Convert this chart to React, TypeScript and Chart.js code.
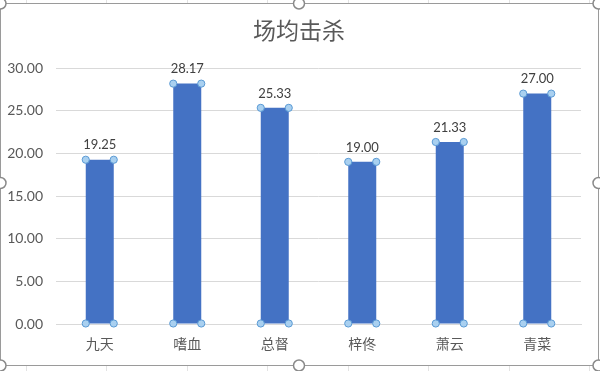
import React, { useEffect, useRef } from "react";
import { Chart, registerables } from "chart.js";

Chart.register(...registerables);

const title = "场均击杀";
const categories = ["九天", "嗜血", "总督", "梓佟", "萧云", "青菜"];
const killsPerGame = [19.25, 28.17, 25.33, 19.0, 21.33, 27.0];
const yMin = 0;
const yMax = 30;
const yStep = 5;

const FONT = "Lato, 'Noto Sans CJK SC', sans-serif";

const decorPlugin = {
  id: "decor",
  beforeDraw(chart: any) {
    const ctx = chart.ctx;
    const W = chart.width;
    const H = chart.height;
    ctx.save();
    ctx.fillStyle = "#ffffff";
    ctx.fillRect(0, 0, W, H);
    ctx.strokeStyle = "#e3e3e3";
    ctx.lineWidth = 1;
    for (let x = 25.5; x < W; x += 80.5) {
      const xx = Math.round(x) + 0.5;
      ctx.beginPath();
      ctx.moveTo(xx, 0);
      ctx.lineTo(xx, 3);
      ctx.moveTo(xx, 366);
      ctx.lineTo(xx, H);
      ctx.stroke();
    }
    ctx.fillStyle = "#595959";
    ctx.font = `23px ${FONT}`;
    ctx.textAlign = "center";
    ctx.textBaseline = "middle";
    ctx.fillText(title, 299, 32);
    ctx.restore();
  },
  afterDatasetsDraw(chart: any) {
    const ctx = chart.ctx;
    const meta = chart.getDatasetMeta(0);
    const data = chart.data.datasets[0].data as number[];
    ctx.save();
    meta.data.forEach((bar: any, i: number) => {
      const { x, y, base, width } = bar.getProps(["x", "y", "base", "width"], true);
      ctx.fillStyle = "#404040";
      ctx.font = `13px ${FONT}`;
      ctx.textAlign = "center";
      ctx.textBaseline = "bottom";
      ctx.fillText(data[i].toFixed(2), x, y - 8);
      const pts = [
        [x - width / 2, y],
        [x + width / 2, y],
        [x - width / 2, base],
        [x + width / 2, base],
      ];
      pts.forEach(([px, py]) => {
        ctx.beginPath();
        ctx.arc(px, py, 3.6, 0, Math.PI * 2);
        ctx.fillStyle = "#a9d0f0";
        ctx.fill();
        ctx.lineWidth = 1;
        ctx.strokeStyle = "#5b9bd5";
        ctx.stroke();
      });
    });
    ctx.restore();
  },
  afterDraw(chart: any) {
    const ctx = chart.ctx;
    ctx.save();
    ctx.strokeStyle = "#9a9a9a";
    ctx.lineWidth = 1;
    ctx.strokeRect(0.5, 3.5, 598, 362);
    const handles = [
      [0.5, 3.5], [299, 3.5], [598.5, 3.5],
      [0.5, 183], [598.5, 183],
      [0.5, 365.5], [299, 365.5], [598.5, 365.5],
    ];
    handles.forEach(([hx, hy]) => {
      ctx.beginPath();
      ctx.arc(hx, hy, 5.5, 0, Math.PI * 2);
      ctx.fillStyle = "#ffffff";
      ctx.fill();
      ctx.lineWidth = 1.5;
      ctx.strokeStyle = "#8a8a8a";
      ctx.stroke();
    });
    ctx.restore();
  },
};

export default function App() {
  const canvasRef = useRef<HTMLCanvasElement | null>(null);

  useEffect(() => {
    document.body.style.margin = "0";
    const canvas = canvasRef.current;
    if (!canvas) return;
    const chart = new Chart(canvas, {
      type: "bar",
      data: {
        labels: categories,
        datasets: [
          {
            data: killsPerGame,
            backgroundColor: "#4472c4",
            borderWidth: 0,
            barPercentage: 0.32,
            categoryPercentage: 1,
          },
        ],
      },
      options: {
        animation: false,
        responsive: false,
        maintainAspectRatio: false,
        layout: { padding: { left: 0, right: 19, top: 68, bottom: 0 } },
        plugins: {
          legend: { display: false },
          title: { display: false },
          tooltip: { enabled: false },
        },
        scales: {
          x: {
            grid: { display: false, drawTicks: false },
            border: { display: true, color: "#d9d9d9", width: 1 },
            ticks: {
              color: "#595959",
              font: { family: FONT, size: 14 },
              padding: 12,
              maxRotation: 0,
            },
            afterFit(scale: any) {
              scale.height = 47;
            },
          },
          y: {
            min: yMin,
            max: yMax,
            grid: { color: "#d9d9d9", drawTicks: false, lineWidth: 1 },
            border: { display: false },
            ticks: {
              stepSize: yStep,
              color: "#595959",
              font: { family: FONT, size: 14 },
              padding: 13,
              callback: (v: any) => Number(v).toFixed(2),
            },
            afterFit(scale: any) {
              scale.width = 56;
            },
          },
        },
      },
      plugins: [decorPlugin],
    });
    return () => chart.destroy();
  }, []);

  return (
    <div style={{ width: 600, height: 371 }}>
      <canvas ref={canvasRef} width={600} height={371} style={{ display: "block" }} />
    </div>
  );
}
